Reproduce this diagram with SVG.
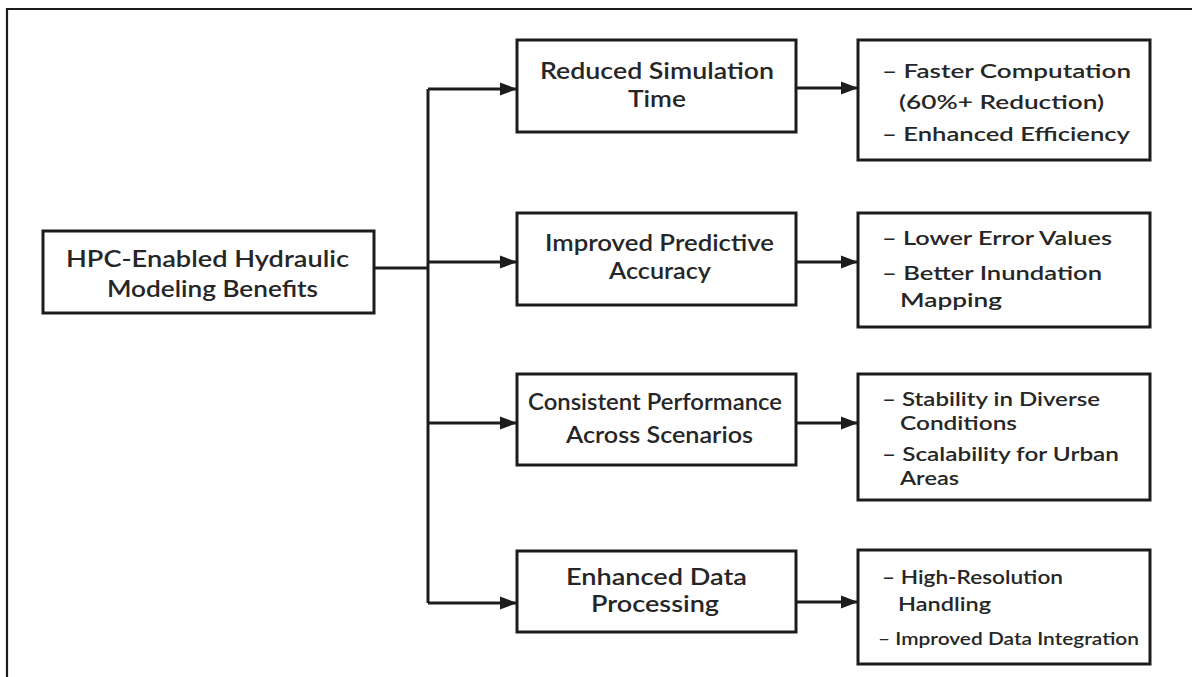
<svg xmlns="http://www.w3.org/2000/svg" width="1192" height="677" viewBox="0 0 1192 677">
  <style>
    .box { fill: #ffffff; stroke: #1c1c1c; stroke-width: 3; }
    .frame { fill: none; stroke: #1c1c1c; stroke-width: 2.2; }
    .wire { fill: none; stroke: #1c1c1c; stroke-width: 3; }
    .lbl { font-family: Lato, "Open Sans", "Liberation Sans", sans-serif; font-weight: 600; fill: #262626; }
    .big { font-size: 22px; }
    .small { font-size: 19px; }
    .tiny { font-size: 17.5px; }
  </style>
  <defs>
    <marker id="head" markerUnits="userSpaceOnUse" markerWidth="18" markerHeight="14" refX="17" refY="7" orient="auto">
      <path d="M0,0.5 L17,7 L0,13.5 Z" fill="#1c1c1c"/>
    </marker>
  </defs>

  <rect width="1192" height="677" fill="#ffffff"/>
  <!-- page frame (top and left edges only) -->
  <path class="frame" d="M7,677 V9 H1192"/>

  <!-- connectors -->
  <g id="connectors">
    <path class="wire" d="M374,268 H428"/>
    <path class="wire" d="M428,89 V603"/>
    <path class="wire" d="M428,89 H517" marker-end="url(#head)"/>
    <path class="wire" d="M428,262 H517" marker-end="url(#head)"/>
    <path class="wire" d="M428,423 H517" marker-end="url(#head)"/>
    <path class="wire" d="M428,603 H517" marker-end="url(#head)"/>
    <path class="wire" d="M796,88 H858" marker-end="url(#head)"/>
    <path class="wire" d="M796,262 H858" marker-end="url(#head)"/>
    <path class="wire" d="M796,423 H858" marker-end="url(#head)"/>
    <path class="wire" d="M796,602 H858" marker-end="url(#head)"/>
  </g>

  <!-- root -->
  <g id="root">
    <rect class="box" x="43" y="231" width="331" height="82"/>
    <text class="lbl big" x="66" y="267" textLength="283" lengthAdjust="spacingAndGlyphs">HPC-Enabled Hydraulic</text>
    <text class="lbl big" x="107" y="297" textLength="211" lengthAdjust="spacingAndGlyphs">Modeling Benefits</text>
  </g>

  <!-- benefit categories -->
  <g id="sim-time">
    <rect class="box" x="517" y="40" width="279" height="92"/>
    <text class="lbl big" x="540" y="79" textLength="234" lengthAdjust="spacingAndGlyphs">Reduced Simulation</text>
    <text class="lbl big" x="628" y="107" textLength="58" lengthAdjust="spacingAndGlyphs">Time</text>
  </g>
  <g id="accuracy">
    <rect class="box" x="517" y="213" width="279" height="92"/>
    <text class="lbl big" x="545" y="251" textLength="229" lengthAdjust="spacingAndGlyphs">Improved Predictive</text>
    <text class="lbl big" x="609" y="279" textLength="102" lengthAdjust="spacingAndGlyphs">Accuracy</text>
  </g>
  <g id="performance">
    <rect class="box" x="517" y="374" width="279" height="91"/>
    <text class="lbl big" x="528" y="410" textLength="254" lengthAdjust="spacingAndGlyphs">Consistent Performance</text>
    <text class="lbl big" x="566" y="443" textLength="187" lengthAdjust="spacingAndGlyphs">Across Scenarios</text>
  </g>
  <g id="data-processing">
    <rect class="box" x="517" y="551" width="279" height="81"/>
    <text class="lbl big" x="566" y="585" textLength="181" lengthAdjust="spacingAndGlyphs">Enhanced Data</text>
    <text class="lbl big" x="591" y="612" textLength="128" lengthAdjust="spacingAndGlyphs">Processing</text>
  </g>

  <!-- details -->
  <g id="sim-time-details">
    <rect class="box" x="858" y="40" width="292" height="120"/>
    <text class="lbl small" x="882" y="78" textLength="249" lengthAdjust="spacingAndGlyphs">– Faster Computation</text>
    <text class="lbl small" x="899" y="109" textLength="205" lengthAdjust="spacingAndGlyphs">(60%+ Reduction)</text>
    <text class="lbl small" x="882" y="141" textLength="248" lengthAdjust="spacingAndGlyphs">– Enhanced Efficiency</text>
  </g>
  <g id="accuracy-details">
    <rect class="box" x="858" y="213" width="292" height="114"/>
    <text class="lbl small" x="882" y="245" textLength="230" lengthAdjust="spacingAndGlyphs">– Lower Error Values</text>
    <text class="lbl small" x="882" y="280" textLength="220" lengthAdjust="spacingAndGlyphs">– Better Inundation</text>
    <text class="lbl small" x="900" y="307" textLength="102" lengthAdjust="spacingAndGlyphs">Mapping</text>
  </g>
  <g id="performance-details">
    <rect class="box" x="858" y="374" width="292" height="126"/>
    <text class="lbl small" x="882" y="406" textLength="218" lengthAdjust="spacingAndGlyphs">– Stability in Diverse</text>
    <text class="lbl small" x="900" y="430" textLength="117" lengthAdjust="spacingAndGlyphs">Conditions</text>
    <text class="lbl small" x="882" y="461" textLength="237" lengthAdjust="spacingAndGlyphs">– Scalability for Urban</text>
    <text class="lbl small" x="900" y="485" textLength="59" lengthAdjust="spacingAndGlyphs">Areas</text>
  </g>
  <g id="data-processing-details">
    <rect class="box" x="858" y="550" width="292" height="114"/>
    <text class="lbl small" x="882" y="584" textLength="181" lengthAdjust="spacingAndGlyphs">– High-Resolution</text>
    <text class="lbl small" x="898" y="611" textLength="93" lengthAdjust="spacingAndGlyphs">Handling</text>
    <text class="lbl tiny" x="878" y="645" textLength="261" lengthAdjust="spacingAndGlyphs">– Improved Data Integration</text>
  </g>
</svg>
